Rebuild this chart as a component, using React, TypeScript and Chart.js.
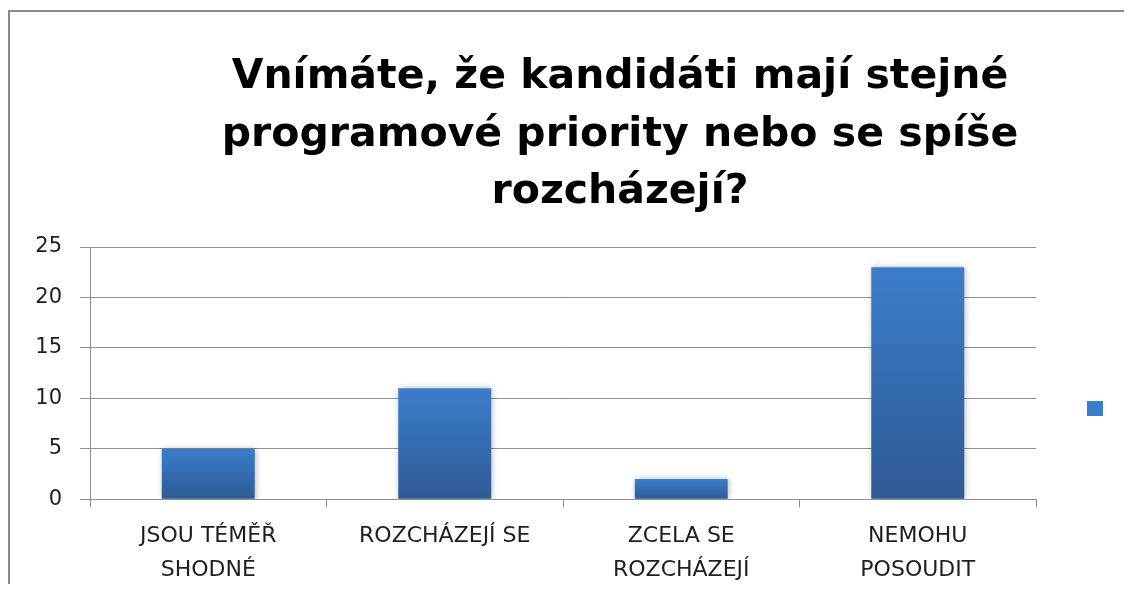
import React, { useEffect, useRef } from "react";
import { Chart, registerables } from "chart.js";

Chart.register(...registerables);

const TITLE_LINES = [
  "Vnímáte, že kandidáti mají stejné",
  "programové priority nebo se spíše",
  "rozcházejí?",
];
const CATEGORIES = [
  ["JSOU TÉMĚŘ", "SHODNÉ"],
  ["ROZCHÁZEJÍ SE"],
  ["ZCELA SE", "ROZCHÁZEJÍ"],
  ["NEMOHU", "POSOUDIT"],
];
const VALUES = [5, 11, 2, 23];
const SERIES_LABEL = "";
const Y_MIN = 0;
const Y_MAX = 25;
const Y_STEP = 5;

const FONT = "'DejaVu Sans', sans-serif";
const GRID = "#8f8f8f";
const TEXT = "#1e1e1e";
const BAR_TOP = "#3b7dcb";
const BAR_BOTTOM = "#2d5a94";
const BAR_SOLID = "#3570b8";

const titlePlugin = {
  id: "centerTitle",
  afterDraw(chart: any, _args: any, opts: any) {
    const ctx = chart.ctx;
    ctx.save();
    ctx.fillStyle = opts.color;
    ctx.font = opts.font;
    ctx.textAlign = "center";
    ctx.textBaseline = "alphabetic";
    opts.lines.forEach((line: string, i: number) => {
      ctx.fillText(line, opts.x, opts.y + i * opts.lineHeight);
    });
    ctx.restore();
  },
};

const shadowPlugin = {
  id: "barShadow",
  beforeDatasetsDraw(chart: any) {
    const ctx = chart.ctx;
    ctx.save();
    ctx.shadowColor = "rgba(0,0,0,0.28)";
    ctx.shadowBlur = 6;
    ctx.shadowOffsetX = 1;
    ctx.shadowOffsetY = 0;
  },
  afterDatasetsDraw(chart: any) {
    chart.ctx.restore();
  },
};

export default function App() {
  const ref = useRef<HTMLCanvasElement | null>(null);

  useEffect(() => {
    if (!ref.current) return;
    const chart = new Chart(ref.current, {
      type: "bar",
      data: {
        labels: CATEGORIES,
        datasets: [
          {
            label: SERIES_LABEL,
            data: VALUES,
            backgroundColor: (c: any) => {
              if (c.type !== "data") return BAR_SOLID;
              const ch = c.chart;
              const ys = ch.scales && ch.scales.y;
              if (!ys || !ch.chartArea) return BAR_SOLID;
              const top = ys.getPixelForValue(c.raw);
              const base = ys.getPixelForValue(0);
              if (!isFinite(top) || !isFinite(base) || top === base) return BAR_SOLID;
              const g = ch.ctx.createLinearGradient(0, top, 0, base);
              g.addColorStop(0, BAR_TOP);
              g.addColorStop(1, BAR_BOTTOM);
              return g;
            },
            borderWidth: 0,
            barPercentage: 0.393,
            categoryPercentage: 1,
          },
        ],
      },
      plugins: [titlePlugin, shadowPlugin],
      options: {
        animation: false,
        responsive: true,
        maintainAspectRatio: false,
        layout: { padding: { top: 235, bottom: 0, right: 13, left: 0 } },
        plugins: {
          title: { display: false },
          tooltip: { enabled: false },
          legend: {
            display: true,
            position: "right",
            align: "start",
            title: {
              display: true,
              text: " ",
              padding: 46,
              font: { family: FONT, size: 10, lineHeight: 1.1 },
            },
            labels: {
              boxWidth: 16,
              boxHeight: 15,
              padding: 51,
              font: { family: FONT, size: 12 },
              color: TEXT,
            },
          },
          centerTitle: {
            lines: TITLE_LINES,
            x: 610,
            y: 76,
            lineHeight: 57.5,
            font: `bold 41px ${FONT}`,
            color: "#000000",
          },
        } as any,
        scales: {
          x: {
            grid: {
              offset: true,
              drawOnChartArea: false,
              drawTicks: true,
              tickLength: 8,
              color: GRID,
            },
            border: { display: true, color: GRID, width: 1 },
            ticks: {
              color: TEXT,
              padding: 12,
              maxRotation: 0,
              autoSkip: false,
              font: { family: FONT, size: 22, lineHeight: "34px" },
            },
            afterFit: (s: any) => {
              s.height = 92.7;
            },
          },
          y: {
            min: Y_MIN,
            max: Y_MAX,
            grid: {
              color: GRID,
              tickLength: 10,
              drawTicks: true,
            },
            border: { display: true, color: GRID, width: 1 },
            ticks: {
              stepSize: Y_STEP,
              color: TEXT,
              padding: 18,
              font: { family: FONT, size: 21 },
            },
            afterFit: (s: any) => {
              s.width = 80;
            },
          },
        },
      },
    });
    return () => chart.destroy();
  }, []);

  return (
    <div
      style={{
        marginTop: 2,
        marginBottom: -8,
        borderTop: "2px solid #8a8a8a",
        borderLeft: "2px solid #8a8a8a",
        width: 1122,
        height: 580,
        position: "relative",
        background: "#ffffff",
      }}
    >
      <canvas ref={ref} />
    </div>
  );
}
